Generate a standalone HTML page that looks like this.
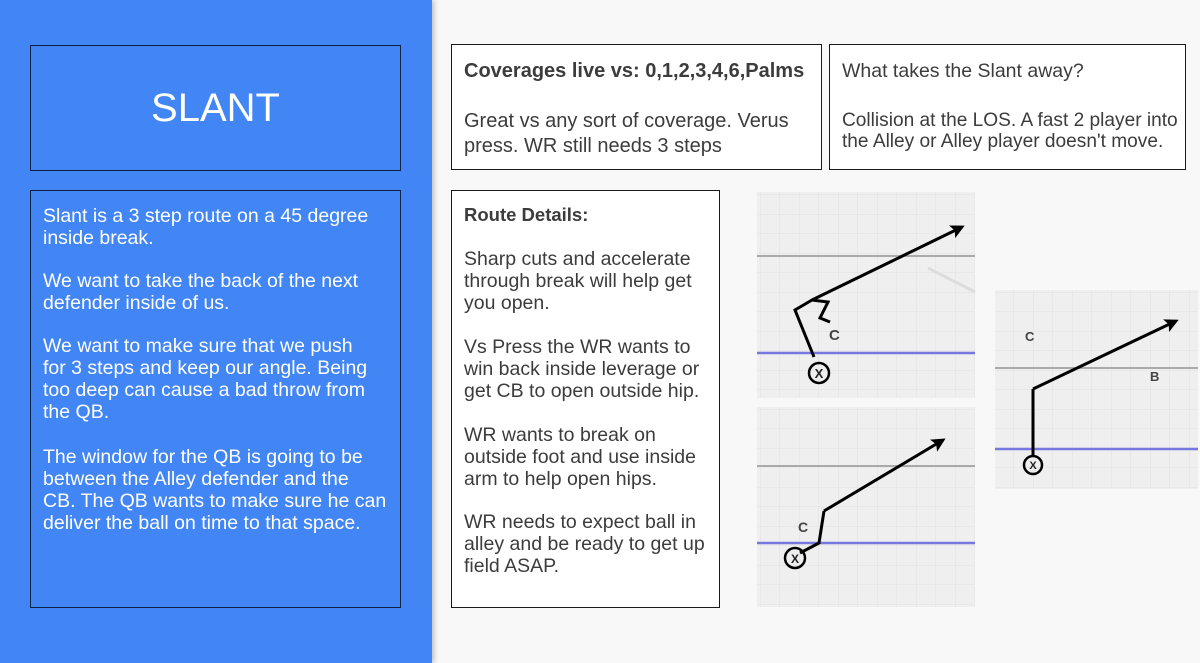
<!DOCTYPE html>
<html><head><meta charset="utf-8"><style>
body{margin:0;width:1200px;height:663px;overflow:hidden;background:#f8f8f8;font-family:"Liberation Sans",sans-serif;position:relative}
.p{position:absolute;left:0;top:0;width:432px;height:663px;background:#4285f4;box-shadow:2px 0 5px rgba(0,0,0,.25)}
.b{position:absolute;border:1.5px solid #1a1a1a;box-sizing:border-box}
.l{position:absolute;white-space:nowrap;font-size:19.5px;transform:scaleX(1);transform-origin:0 0;line-height:22px}
.w{color:#fff}.d{color:#3c3c3c}
.bo{font-weight:bold}
</style></head><body>
<div class="p"></div>
<div class="b" style="left:30px;top:45px;width:371px;height:126px;border-color:#102040"></div>
<div style="position:absolute;left:30px;top:86px;width:371px;text-align:center;color:#fff;font-size:40px">SLANT</div>
<div class="b" style="left:30px;top:190px;width:371px;height:418px;border-color:#102040"></div>
<div class="l w" style="left:43px;top:205px">Slant is a 3 step route on a 45 degree</div>
<div class="l w" style="left:43px;top:227px">inside break.</div>
<div class="l w" style="left:43px;top:270px">We want to take the back of the next</div>
<div class="l w" style="left:43px;top:292px">defender inside of us.</div>
<div class="l w" style="left:43px;top:335px">We want to make sure that we push</div>
<div class="l w" style="left:43px;top:357px">for 3 steps and keep our angle. Being</div>
<div class="l w" style="left:43px;top:379px">too deep can cause a bad throw from</div>
<div class="l w" style="left:43px;top:401px">the QB.</div>
<div class="l w" style="left:43px;top:446px">The window for the QB is going to be</div>
<div class="l w" style="left:43px;top:468px">between the Alley defender and the</div>
<div class="l w" style="left:43px;top:490px">CB. The QB wants to make sure he can</div>
<div class="l w" style="left:43px;top:512px">deliver the ball on time to that space.</div>

<div class="b" style="left:451px;top:44px;width:371px;height:126px;background:#fff"></div>
<div class="l d bo" style="left:464px;top:60px;font-size:20px">Coverages live vs: 0,1,2,3,4,6,Palms</div>
<div class="l d" style="left:464px;top:109px;font-size:20px;line-height:25px">Great vs any sort of coverage. Verus</div>
<div class="l d" style="left:464px;top:134px;font-size:20px;line-height:25px">press. WR still needs 3 steps</div>

<div class="b" style="left:829px;top:44px;width:357px;height:126px;background:#fff"></div>
<div class="l d" style="left:842px;top:60px">What takes the Slant away?</div>
<div class="l d" style="left:842px;top:109px;transform:scaleX(.98)">Collision at the LOS. A fast 2 player into</div>
<div class="l d" style="left:842px;top:130px;transform:scaleX(.98)">the Alley or Alley player doesn't move.</div>

<div class="b" style="left:451px;top:190px;width:269px;height:418px;background:#fff"></div>
<div class="l d bo" style="left:464px;top:204px;font-size:18.5px">Route Details:</div>
<div class="l d" style="left:464px;top:248px">Sharp cuts and accelerate</div>
<div class="l d" style="left:464px;top:270px">through break will help get</div>
<div class="l d" style="left:464px;top:292px">you open.</div>
<div class="l d" style="left:464px;top:336px">Vs Press the WR wants to</div>
<div class="l d" style="left:464px;top:358px">win back inside leverage or</div>
<div class="l d" style="left:464px;top:380px">get CB to open outside hip.</div>
<div class="l d" style="left:464px;top:424px">WR wants to break on</div>
<div class="l d" style="left:464px;top:446px">outside foot and use inside</div>
<div class="l d" style="left:464px;top:468px">arm to help open hips.</div>
<div class="l d" style="left:464px;top:511px">WR needs to expect ball in</div>
<div class="l d" style="left:464px;top:533px">alley and be ready to get up</div>
<div class="l d" style="left:464px;top:555px">field ASAP.</div>

<svg style="position:absolute;left:0;top:0" width="1200" height="663">
<defs>
<pattern id="g" width="19.5" height="19.5" patternUnits="userSpaceOnUse"><path d="M19.5 0V19.5H0" fill="none" stroke="#e2e2e2" stroke-width="1"/></pattern>
<marker id="a" markerWidth="14" markerHeight="14" refX="11" refY="7" orient="auto" markerUnits="userSpaceOnUse"><path d="M0 0L14 7L0 14L3 7Z" fill="#000"/></marker>
</defs>
<g font-family="Liberation Sans" font-weight="bold" fill="#444">
<rect x="757" y="192" width="218" height="206" fill="#efefef"/><rect x="757" y="192" width="218" height="206" fill="url(#g)"/>
<line x1="757" y1="256" x2="975" y2="256" stroke="#aaa" stroke-width="2"/>
<line x1="757" y1="353" x2="975" y2="353" stroke="#7777e0" stroke-width="2.5"/>
<line x1="928" y1="268" x2="975" y2="292" stroke="#ddd" stroke-width="3"/>
<circle cx="819" cy="373" r="10" fill="none" stroke="#000" stroke-width="2.5"/><text x="819" y="378" font-size="13" text-anchor="middle" fill="#222">X</text>
<polyline points="814,357 795,310 812,300 828,302 820,318 830,322" fill="none" stroke="#000" stroke-width="3"/>
<line x1="812" y1="300" x2="962" y2="227" stroke="#000" stroke-width="3" marker-end="url(#a)"/>
<text x="829" y="340" font-size="15">C</text>

<rect x="757" y="407" width="218" height="200" fill="#efefef"/><rect x="757" y="407" width="218" height="200" fill="url(#g)"/>
<line x1="757" y1="466" x2="975" y2="466" stroke="#aaa" stroke-width="2"/>
<line x1="757" y1="543" x2="975" y2="543" stroke="#7777e0" stroke-width="2.5"/>
<circle cx="795" cy="558" r="10" fill="none" stroke="#000" stroke-width="2.5"/><text x="795" y="563" font-size="12" text-anchor="middle" fill="#222">X</text>
<polyline points="800,553 819,543 824,511" fill="none" stroke="#000" stroke-width="3"/>
<line x1="824" y1="511" x2="943" y2="440" stroke="#000" stroke-width="3" marker-end="url(#a)"/>
<text x="798" y="532" font-size="14">C</text>

<rect x="995" y="290" width="203" height="199" fill="#efefef"/><rect x="995" y="290" width="203" height="199" fill="url(#g)"/>
<line x1="995" y1="368" x2="1198" y2="368" stroke="#aaa" stroke-width="2"/>
<line x1="995" y1="449" x2="1198" y2="449" stroke="#7777e0" stroke-width="2.5"/>
<circle cx="1033" cy="465" r="9" fill="none" stroke="#000" stroke-width="2.5"/><text x="1033" y="469" font-size="11" text-anchor="middle" fill="#222">X</text>
<polyline points="1033,456 1033,389" fill="none" stroke="#000" stroke-width="3"/>
<line x1="1033" y1="389" x2="1176" y2="321" stroke="#000" stroke-width="3" marker-end="url(#a)"/>
<text x="1025" y="341" font-size="13">C</text>
<text x="1150" y="381" font-size="13">B</text>
</g>
</svg>
</body></html>
